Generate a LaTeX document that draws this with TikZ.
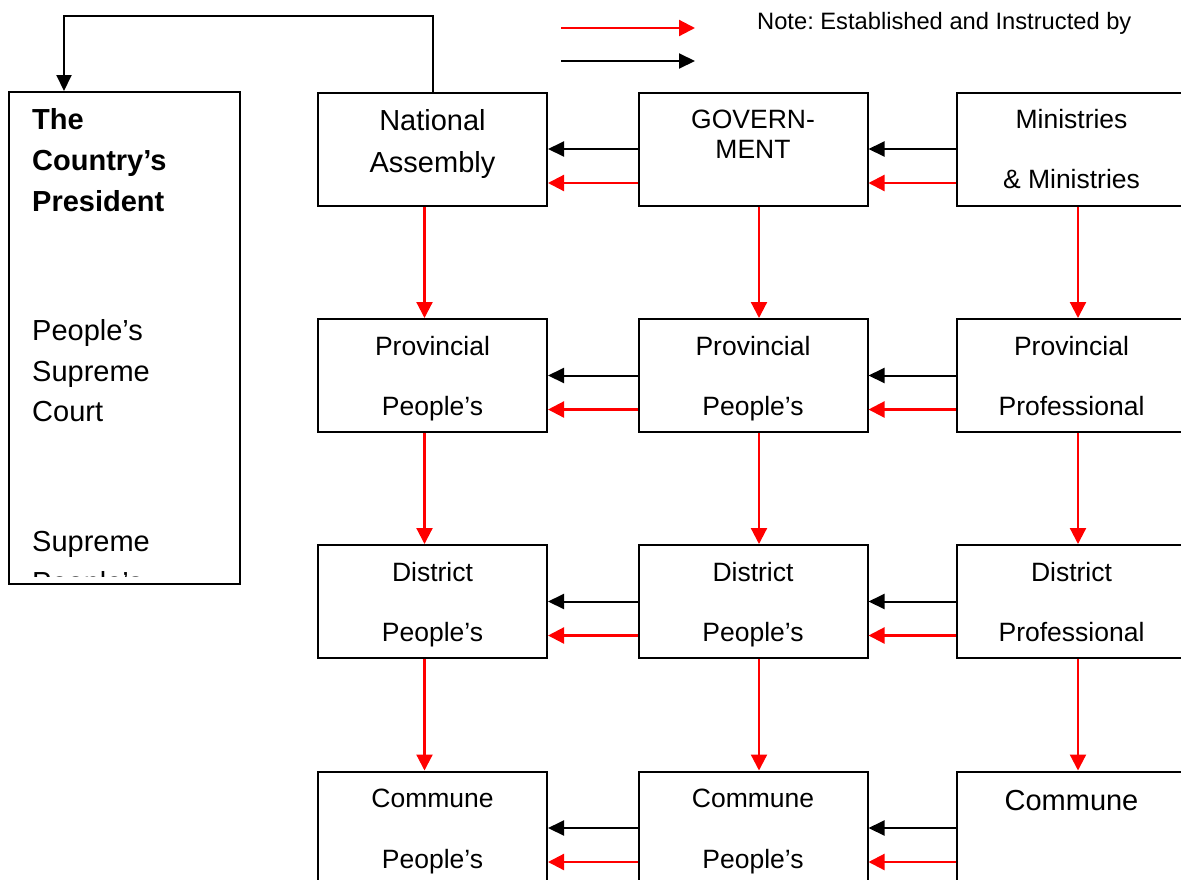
\documentclass[tikz,border=0pt]{standalone}
\usepackage{fontspec}
\setmainfont{Liberation Sans}
\usetikzlibrary{arrows.meta}
\frenchspacing
\begin{document}
\begin{tikzpicture}[x=1pt,y=-1pt,
  box/.style={draw, line width=2pt, minimum width=229pt, minimum height=113pt, inner sep=0pt},
  blkarr/.style={black, line width=2pt, -{Triangle[length=16pt,width=15pt]}},
  redarr/.style={red, line width=2.2pt, -{Triangle[length=16pt,width=16pt]}},
  lbl/.style={anchor=base, inner sep=0pt, font=\fontsize{26.5}{30}\selectfont},
  biglbl/.style={anchor=base, inner sep=0pt, font=\fontsize{29}{33}\selectfont},
  leftlbl/.style={anchor=base west, inner sep=0pt, font=\fontsize{29}{33}\selectfont},
  notelbl/.style={anchor=base west, inner sep=0pt, font=\fontsize{23.7}{27}\selectfont}]
\useasboundingbox (0,0) rectangle (1181,879);
\clip (0,0) rectangle (1181,879);

% boxes
\node[box, minimum width=231pt, minimum height=492pt] (pres) at (124.5,338) {};
\node[box] (na) at (432.5,149) {};
\node[box] (gov) at (753,149) {};
\node[box] (min) at (1071.5,149) {};
\node[box] (p1) at (432.5,375.5) {};
\node[box] (p2) at (753,375.5) {};
\node[box] (p3) at (1071.5,375.5) {};
\node[box] (d1) at (432.5,601.5) {};
\node[box] (d2) at (753,601.5) {};
\node[box] (d3) at (1071.5,601.5) {};
\node[box] (c1) at (432.5,828) {};
\node[box] (c2) at (753,828) {};
\node[box] (c3) at (1071.5,828) {};

% left box text (clipped at the bottom)
\begin{scope}
  \clip (9,92) rectangle (240,576);
  \node[leftlbl, font=\fontsize{29}{33}\selectfont\bfseries] (t1) at (32,129) {The};
  \node[leftlbl, font=\fontsize{29}{33}\selectfont\bfseries] (t2) at (32,170) {Country’s};
  \node[leftlbl, font=\fontsize{29}{33}\selectfont\bfseries] (t3) at (32,211) {President};
  \node[leftlbl] (t4) at (32,340) {People’s};
  \node[leftlbl] (t5) at (32,381) {Supreme};
  \node[leftlbl] (t6) at (32,421) {Court};
  \node[leftlbl] (t7) at (32,551) {Supreme};
  \node[leftlbl] (t8) at (32,592) {People’s};
\end{scope}

% row 1 text
\node[biglbl] (na1) at (432.5,130) {National};
\node[biglbl] (na2) at (432.5,172) {Assembly};
\node[lbl] (gv1) at (753,128) {GOVERN-};
\node[lbl] (gv2) at (753,158) {MENT};
\node[lbl] (mn1) at (1071.5,128) {Ministries};
\node[lbl] (mn2) at (1071.5,188) {\& Ministries};
% row 2 text
\node[lbl] (pa1) at (432.5,355) {Provincial};
\node[lbl] (pa2) at (432.5,415) {People’s};
\node[lbl] (pb1) at (753,355) {Provincial};
\node[lbl] (pb2) at (753,415) {People’s};
\node[lbl] (pc1) at (1071.5,355) {Provincial};
\node[lbl] (pc2) at (1071.5,415) {Professional};
% row 3 text
\node[lbl] (da1) at (432.5,581) {District};
\node[lbl] (da2) at (432.5,641) {People’s};
\node[lbl] (db1) at (753,581) {District};
\node[lbl] (db2) at (753,641) {People’s};
\node[lbl] (dc1) at (1071.5,581) {District};
\node[lbl] (dc2) at (1071.5,641) {Professional};
% row 4 text
\node[lbl] (ca1) at (432.5,807) {Commune};
\node[lbl] (ca2) at (432.5,868) {People’s};
\node[lbl] (cb1) at (753,807) {Commune};
\node[lbl] (cb2) at (753,868) {People’s};
\node[biglbl] (cc1) at (1071.5,810) {Commune};

% legend
\coordinate (lr1) at (561,28);
\coordinate (lr2) at (695,28);
\coordinate (lb1) at (561,61);
\coordinate (lb2) at (695,61);
\draw[redarr] (lr1) -- (lr2);
\draw[blkarr] (lb1) -- (lb2);
\node[notelbl] (note) at (757,29) {Note: Established and Instructed by};

% top connector
\draw[blkarr] (na.north) -- ++(0,-76) -| ([xshift=-60.5pt]pres.north);

% horizontal arrows
\foreach \r in {na/gov/min, p1/p2/p3, d1/d2/d3, c1/c2/c3}{
  \foreach \a/\b/\c in \r {
    \draw[blkarr] (\b.west) -- (\a.east);
    \draw[blkarr] (\c.west) -- (\b.east);
    \draw[redarr] ([yshift=-34pt]\b.west) -- ([yshift=-34pt]\a.east);
    \draw[redarr] ([yshift=-34pt]\c.west) -- ([yshift=-34pt]\b.east);
  }
}

% vertical arrows
\foreach \u/\v in {na/p1, p1/d1, d1/c1}{
  \draw[redarr] ([xshift=-8pt]\u.south) -- ([xshift=-8pt]\v.north);
}
\foreach \u/\v in {gov/p2, p2/d2, d2/c2}{
  \draw[redarr] ([xshift=6pt]\u.south) -- ([xshift=6pt]\v.north);
}
\foreach \u/\v in {min/p3, p3/d3, d3/c3}{
  \draw[redarr] ([xshift=6.5pt]\u.south) -- ([xshift=6.5pt]\v.north);
}
\end{tikzpicture}
\end{document}
